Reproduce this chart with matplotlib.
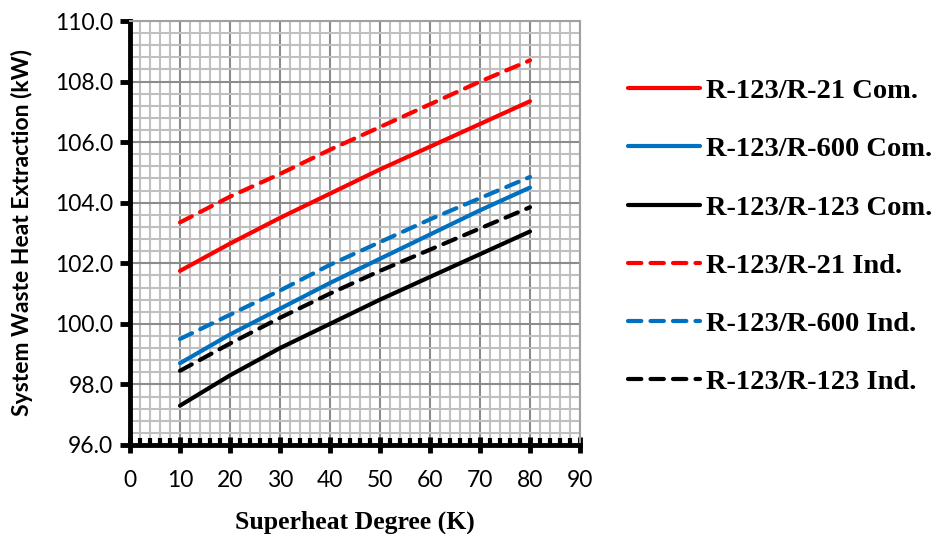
import numpy as np
import matplotlib
matplotlib.use('Agg')
import matplotlib.pyplot as plt
from matplotlib.ticker import MultipleLocator, FormatStrFormatter

superheat = [10, 20, 30, 40, 50, 60, 70, 80]

r21_com = [101.75, 102.65, 103.5, 104.3, 105.1, 105.85, 106.6, 107.35]
r600_com = [98.7, 99.65, 100.5, 101.35, 102.15, 102.95, 103.75, 104.5]
r123_com = [97.3, 98.3, 99.2, 100.0, 100.8, 101.55, 102.3, 103.05]
r21_ind = [103.35, 104.2, 104.95, 105.75, 106.5, 107.25, 108.0, 108.7]
r600_ind = [99.5, 100.3, 101.1, 101.95, 102.7, 103.45, 104.15, 104.85]
r123_ind = [98.45, 99.35, 100.2, 101.0, 101.75, 102.45, 103.15, 103.85]

labels = ['R-123/R-21 Com.', 'R-123/R-600 Com.', 'R-123/R-123 Com.',
          'R-123/R-21 Ind.', 'R-123/R-600 Ind.', 'R-123/R-123 Ind.']

RED = '#ff0000'
BLUE = '#0070c0'
BLACK = '#000000'

fig = plt.figure(figsize=(9.36, 5.34), dpi=100)
ax = fig.add_axes([130/936, 89/534, 450/936, 424/534])

series = [r21_com, r600_com, r123_com, r21_ind, r600_ind, r123_ind]
colors = [RED, BLUE, BLACK, RED, BLUE, BLACK]
styles = ['-', '-', '-', (0, (3.2, 2.2)), (0, (3.2, 2.2)), (0, (3.2, 2.2))]
for y, c, ls, lab in zip(series, colors, styles, labels):
    ax.plot(superheat, y, color=c, linestyle=ls, linewidth=3, label=lab,
            solid_capstyle='round', dash_capstyle='round', zorder=3)

ax.set_xlim(0, 90)
ax.set_ylim(96, 110)
ax.xaxis.set_major_locator(MultipleLocator(10))
ax.xaxis.set_minor_locator(MultipleLocator(2))
ax.yaxis.set_major_locator(MultipleLocator(2))
ax.yaxis.set_minor_locator(MultipleLocator(0.4))
ax.yaxis.set_major_formatter(FormatStrFormatter('%.1f'))

ax.grid(which='minor', color='#c0c0c0', linewidth=1.5, zorder=0)
ax.grid(which='major', color='#8c8c8c', linewidth=1.5, zorder=1)
ax.set_axisbelow(True)

for s in ['top', 'right']:
    ax.spines[s].set_color('#a0a0a0')
    ax.spines[s].set_linewidth(1.5)
for s in ['left', 'bottom']:
    ax.spines[s].set_color('black')
    ax.spines[s].set_linewidth(3.5)

ax.tick_params(axis='x', which='major', direction='inout', length=12, width=3.5, pad=12)
ax.tick_params(axis='x', which='minor', direction='in', length=5, width=3)
ax.tick_params(axis='y', which='major', direction='out', length=7, width=3.5, pad=5)
ax.tick_params(axis='y', which='minor', length=0)
for lab in ax.get_xticklabels() + ax.get_yticklabels():
    lab.set_fontfamily('Lato')
    lab.set_fontsize(16.5)

ax.set_xlabel('Superheat Degree (K)', fontfamily='Liberation Serif',
              fontweight='bold', fontsize=18.5, labelpad=14)
ax.set_ylabel('System Waste Heat Extraction (kW)', fontfamily='Lato',
              fontweight='bold', fontsize=16.5)
ax.yaxis.set_label_coords(-0.215, 0.5)

fig.legend(loc='upper left', bbox_to_anchor=(617/936, 1 - 67/534),
           frameon=False, handlelength=2.53, handletextpad=0.18,
           labelspacing=1.13, borderaxespad=0,
           prop={'family': 'Liberation Serif', 'weight': 'bold', 'size': 20.5})

fig.savefig('out.png', dpi=100)
